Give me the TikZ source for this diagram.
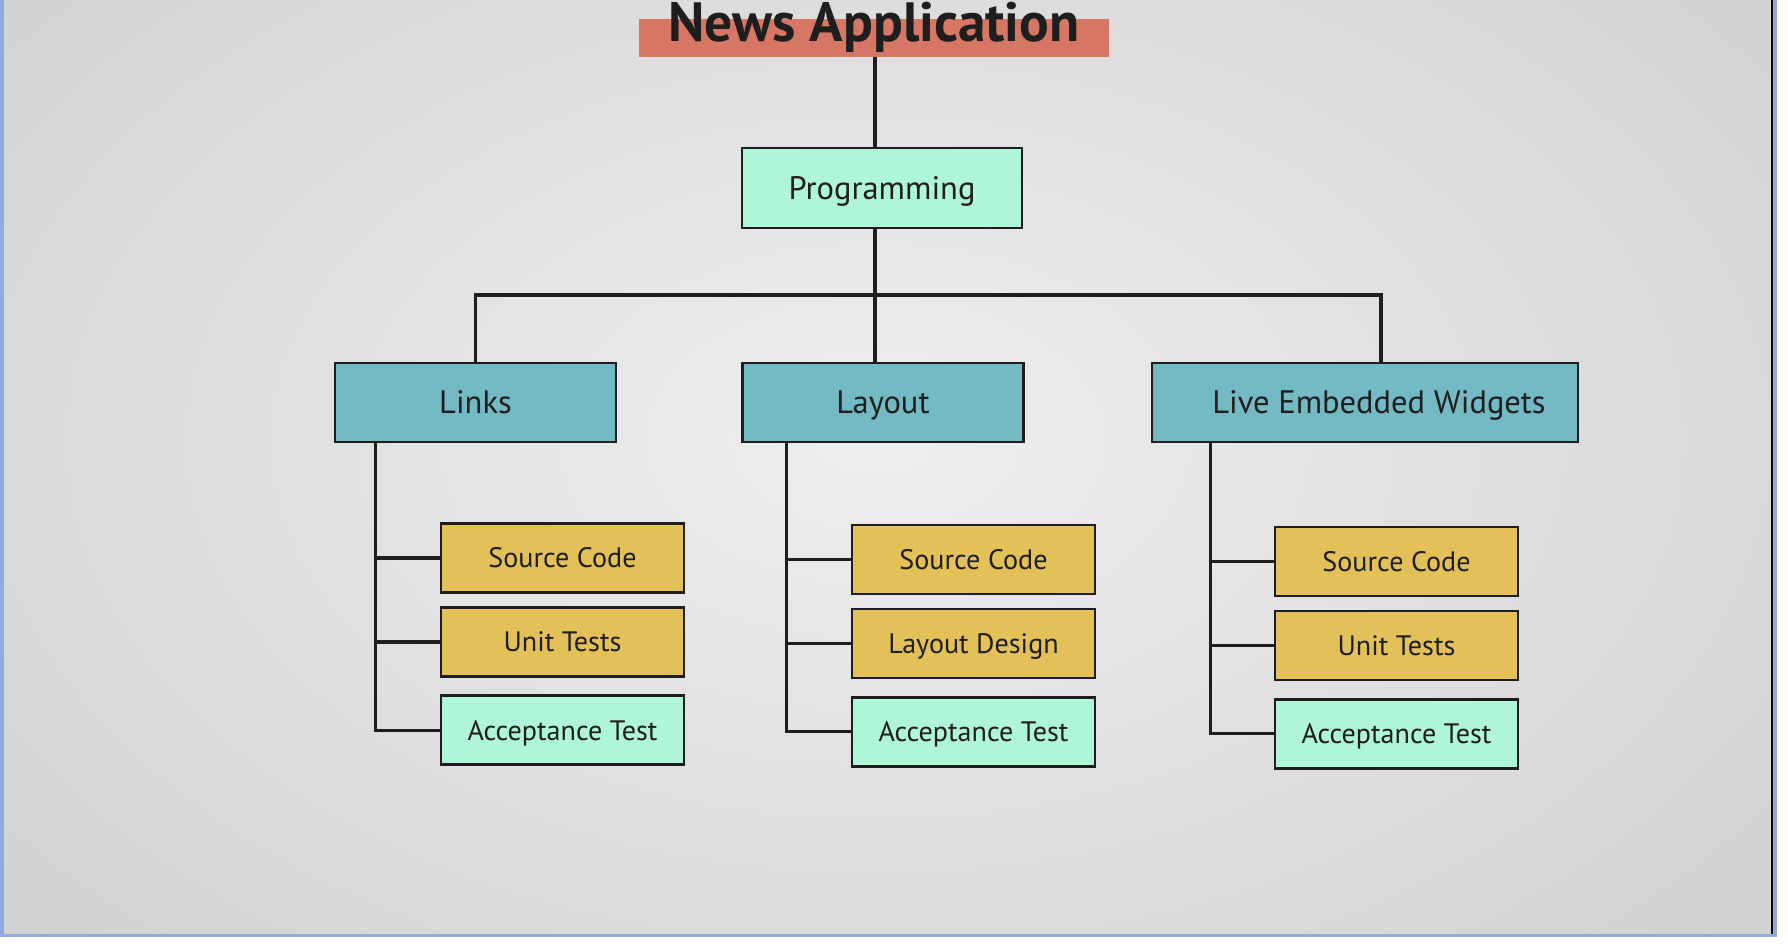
\documentclass[tikz,border=0pt]{standalone}
\usepackage{fontspec}
\setmainfont{PT Sans}
\usepackage{tikz}
\usetikzlibrary{positioning}
\definecolor{mydark}{RGB}{30,30,30}
\definecolor{mysalmon}{RGB}{214,118,100}
\definecolor{mymint}{RGB}{175,245,215}
\definecolor{myteal}{RGB}{116,186,196}
\definecolor{mygold}{RGB}{227,193,88}
\definecolor{myframe}{RGB}{142,170,223}
\definecolor{bgin}{RGB}{238,238,238}
\definecolor{bgout}{RGB}{205,205,205}
\tikzset{
  titlebar/.style={rectangle, fill=mysalmon, minimum width=9.42cm,
    minimum height=0.76cm, inner sep=0pt},
  titletext/.style={font=\fontsize{31.5}{33}\selectfont\bfseries, text=mydark},
  topbox/.style={rectangle, draw=mydark, fill=mymint, minimum width=5.6cm,
    minimum height=1.6cm, font=\fontsize{18.5}{20}\selectfont, line width=1.5pt,
    text=mydark, text height=13pt, text depth=0pt},
  areabox/.style={rectangle, draw=mydark, fill=myteal, minimum width=5.62cm,
    minimum height=1.58cm, font=\fontsize{18.5}{20}\selectfont, line width=1.5pt,
    text=mydark, text height=13pt, text depth=0pt},
  taskbox/.style={rectangle, draw=mydark, fill=mygold, minimum width=4.86cm,
    minimum height=1.38cm, font=\fontsize{16}{18}\selectfont, line width=1.5pt,
    text=mydark, text height=11.2pt, text depth=0pt},
  testbox/.style={taskbox, fill=mymint},
  link/.style={line width=1.9pt, color=mydark}
}
\begin{document}
\begin{tikzpicture}[x=0.02cm, y=-0.02cm, node distance=0.25cm]
  \useasboundingbox (0,0) rectangle (1788,946);
  \clip (0,0) rectangle (1788,946);

  % Background and frame
  \fill[white] (0,0) rectangle (1788,946);
  \begin{scope}
    \clip (4,0) rectangle (1772,934);
    \shade[inner color=bgin, outer color=bgout] (-500,-420) rectangle (2250,1300);
  \end{scope}
  \fill[myframe] (0,0) rectangle (4,937);
  \fill[myframe] (0,934) rectangle (1777,937);
  \fill[myframe] (1773,0) rectangle (1777,937);
  \draw[black, line width=0.8pt] (1772,0) -- (1772,934);

  % Title
  \node[titlebar] (title) at (874,38) {};
  \node[titletext, anchor=base] (titlelbl) at (874,42) {News Application};

  % Nodes
  \node[topbox] (prog) at (882,188) {Programming};
  \node[areabox] (links) at (475.5,402.5) {Links};
  \node[areabox] (layout) at (883,402.5) {Layout};
  \node[areabox, minimum width=8.52cm] (widgets) at (1365,402.5)
    {\hspace*{0.56cm}Live Embedded Widgets};

  \node[taskbox] (l1) at (562.5,558) {Source Code};
  \node[taskbox, below=of l1] (l2) {Unit Tests};
  \node[testbox, below=0.33cm of l2] (l3) {Acceptance Test};

  \node[taskbox] (y1) at (973.5,559.5) {Source Code};
  \node[taskbox, below=of y1] (y2) {Layout Design};
  \node[testbox, below=0.33cm of y2] (y3) {Acceptance Test};

  \node[taskbox] (w1) at (1396.5,561.5) {Source Code};
  \node[taskbox, below=of w1] (w2) {Unit Tests};
  \node[testbox, below=0.33cm of w2] (w3) {Acceptance Test};

  % Paths
  \coordinate (bus) at (875,295);
  \draw[link] (title.south -| bus) -- (prog.north -| bus);
  \draw[link] (prog.south -| bus) -- (bus);
  \draw[link] (links.north) |- (bus) -| ([xshift=0.32cm]widgets.north);
  \draw[link] (bus) -- (layout.north -| bus);

  \coordinate (lspine) at ([xshift=0.84cm]links.south west);
  \coordinate (yspine) at ([xshift=0.9cm]layout.south west);
  \coordinate (wspine) at ([xshift=1.2cm]widgets.south west);
  \foreach \g in {l,y,w} {
    \draw[link] (\g spine) |- (\g3.west);
    \draw[link] (\g1.west) -- (\g1.west -| \g spine);
    \draw[link] (\g2.west) -- (\g2.west -| \g spine);
  }
\end{tikzpicture}
\end{document}
